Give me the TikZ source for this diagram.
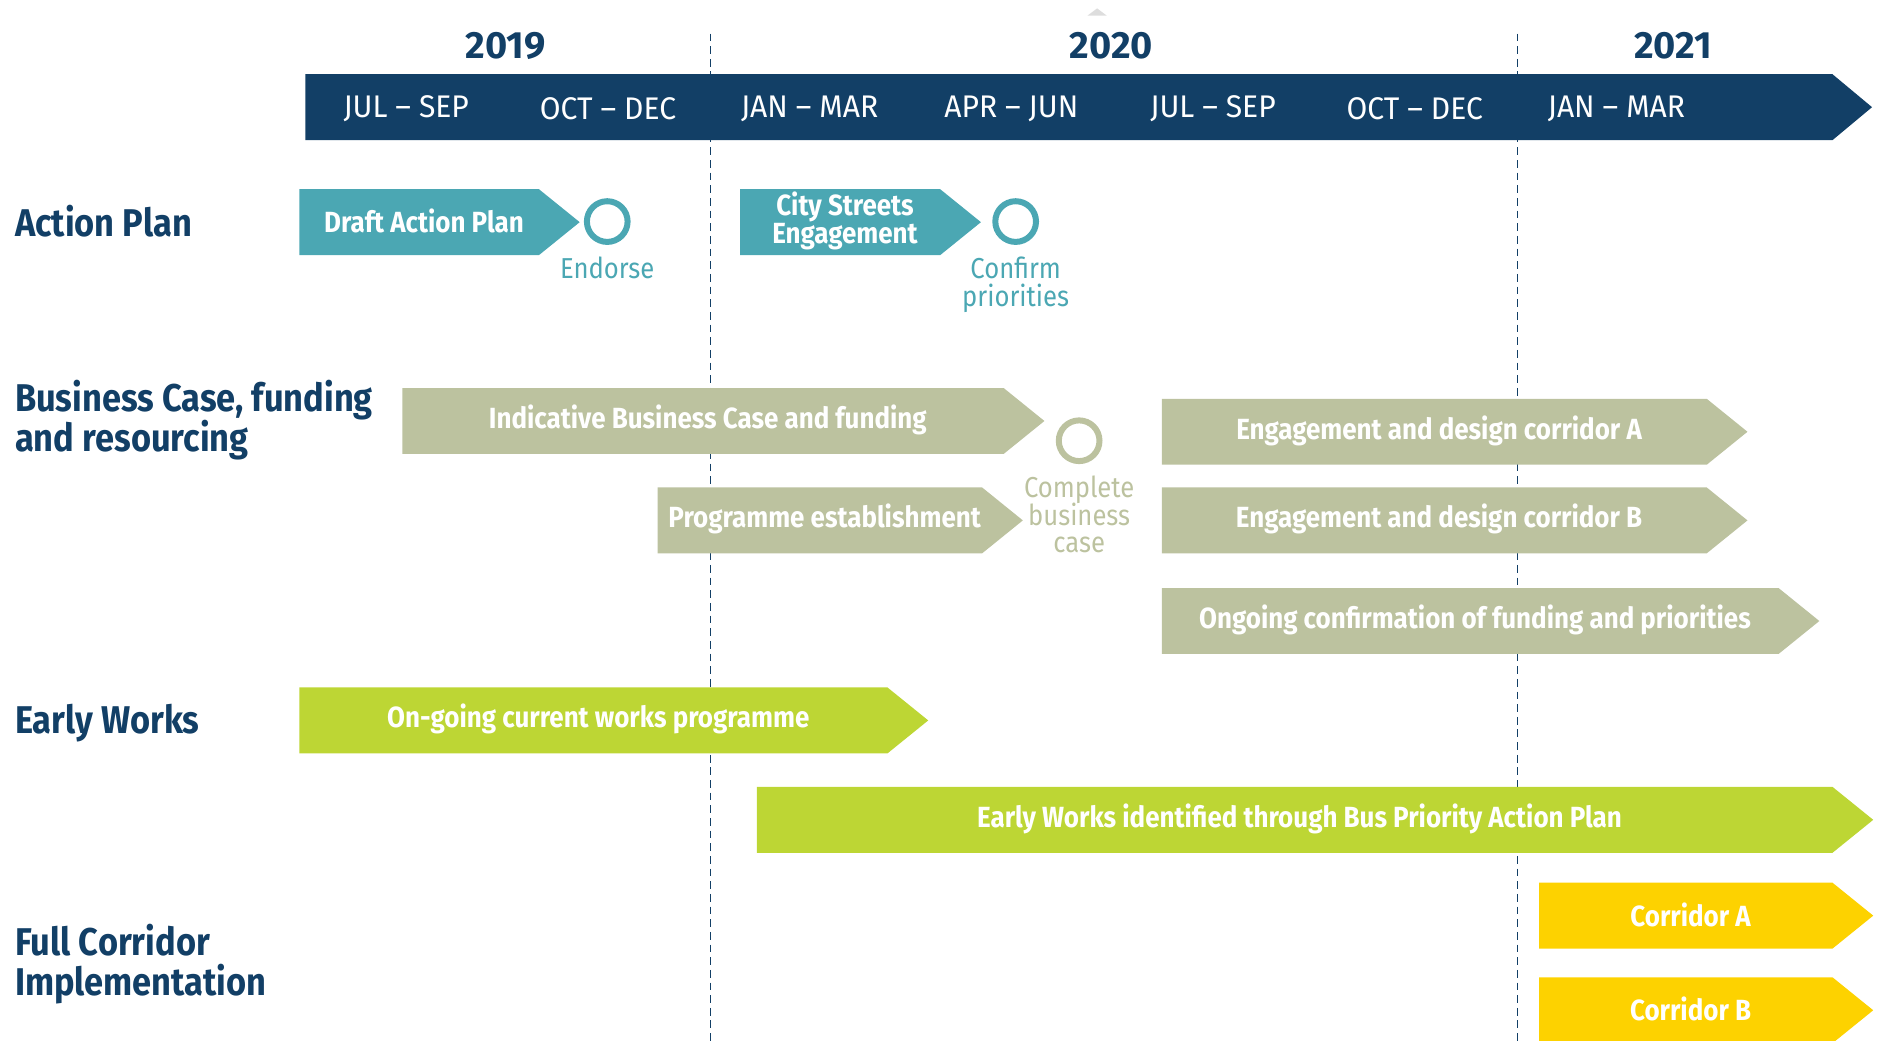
\documentclass[tikz,border=0pt]{standalone}
\usepackage{fontspec}
\setmainfont[FakeStretch=0.89]{Fira Sans}
\newfontfamily\widefont[FakeStretch=0.96]{Fira Sans}
\newfontfamily\yearfont{Fira Sans}
\usetikzlibrary{%
  positioning% wg. " of "
}
\definecolor{navy}{HTML}{123F66}
\definecolor{teal}{HTML}{4BA7B3}
\definecolor{sage}{HTML}{BCC29F}
\definecolor{lime}{HTML}{BDD634}
\definecolor{gold}{HTML}{FDD200}
\definecolor{ghost}{HTML}{DDDDDD}

\newcommand\tightlines{\lineskiplimit=-5pt\relax}

% one bar of the plan: name, colour, left, end of body, top, text
\newcommand\taskbar[6]{%
  \fill[#2] (#3,#5) -- (#4,#5) -- ++(34,27.5) -- (#4,{#5+55}) -- (#3,{#5+55}) -- cycle;
  \node[tasktext] (#1) at ({(#3+#4)/2+4},{#5+26.5}) {#6};
}

\begin{document}
\begin{tikzpicture}
    [   x=0.11977mm
    ,   y=-0.11977mm
    ,   rowlabel/.style=
            {   anchor=west
            ,   align=left
            ,   inner sep=0pt
            ,   text=navy
            ,   font=\fontsize{11}{11.4}\selectfont\bfseries
            }
    ,   year/.style={text=navy, font=\fontsize{10.8}{12}\yearfont\bfseries}
    ,   quarter/.style={text=white, font=\fontsize{8.9}{10}\widefont}
    ,   tasktext/.style=
            {   text=white
            ,   align=center
            ,   inner sep=0pt
            ,   font=\fontsize{8.3}{7.9}\selectfont\bfseries\tightlines
            }
    ,   ring/.style=
            {   circle
            ,   line width=0.6mm
            ,   minimum size=4.07mm
            ,   inner sep=0pt
            }
    ,   mslabel/.style=
            {   align=center
            ,   inner sep=0pt
            ,   font=\fontsize{8.2}{7.9}\selectfont\tightlines
            }
    ,   divider/.style={navy, line width=0.4pt, dash pattern=on 2.2pt off 1.4pt}
    ]

    \useasboundingbox (0,0) rectangle (1568,869);

    % year boundaries
    \draw[divider] (593,28) -- (593,869);
    \draw[divider] (1267,28) -- (1267,869);
    \fill[ghost] (908,13) -- (916,7) -- (924,13) -- cycle;

    % years and quarters
    \node[year] (y2019) at (422,38) {2019};
    \node[year] (y2020) at (928,38) {2020};
    \node[year] (y2021) at (1397,38) {2021};
    \fill[navy] (255,62) -- (1530,62) -- (1563,89.5) -- (1530,117) -- (255,117) -- cycle;
    \foreach \q/\name in {0/JUL – SEP, 1/OCT – DEC, 2/JAN – MAR, 3/APR – JUN,
                          4/JUL – SEP, 5/OCT – DEC, 6/JAN – MAR}
        \node[quarter] (q\q) at ({255+168.4*(\q+0.5)},91) {\name};

    % rows
    \node[rowlabel] (actionplan) at (12,185) {Action Plan};
    \node[rowlabel] (business) at (12,351) {Business Case, funding\\and resourcing};
    \node[rowlabel] (earlyworks) at (12,604) {Early Works};
    \node[rowlabel] (fullcorridor) at (12,805) {Full Corridor\\Implementation};

    % action plan
    \taskbar{draft}{teal}{250}{450}{158}{Draft Action Plan}
    \taskbar{streets}{teal}{618}{785}{158}{City Streets\\Engagement}
    \node[ring, draw=teal] (endorse) at (507,185) {};
    \node[mslabel, text=teal, below=1.1mm of endorse] (endorsetext) {Endorse};
    \node[ring, draw=teal] (confirm) at (848,185) {};
    \node[mslabel, text=teal, below=1.1mm of confirm] (confirmtext) {Confirm\\priorities};

    % business case
    \taskbar{indicative}{sage}{336}{838}{324}{Indicative Business Case and funding}
    \taskbar{programme}{sage}{549}{820}{407}{Programme establishment}
    \node[ring, draw=sage] (complete) at (901,368) {};
    \node[mslabel, text=sage, below=1.1mm of complete] (completetext) {Complete\\business\\case};
    \taskbar{designA}{sage}{970}{1425}{333}{Engagement and design corridor A}
    \taskbar{designB}{sage}{970}{1425}{407}{Engagement and design corridor B}
    \taskbar{ongoing}{sage}{970}{1485}{491}{Ongoing confirmation of funding and priorities}

    % early works
    \taskbar{current}{lime}{250}{741}{574}{On-going current works programme}
    \taskbar{identified}{lime}{632}{1530}{657}{Early Works identified through Bus Priority Action Plan}

    % full corridor
    \taskbar{corridorA}{gold}{1285}{1530}{737}{Corridor A}
    \taskbar{corridorB}{gold}{1285}{1530}{816}{Corridor B}
\end{tikzpicture}
\end{document}
